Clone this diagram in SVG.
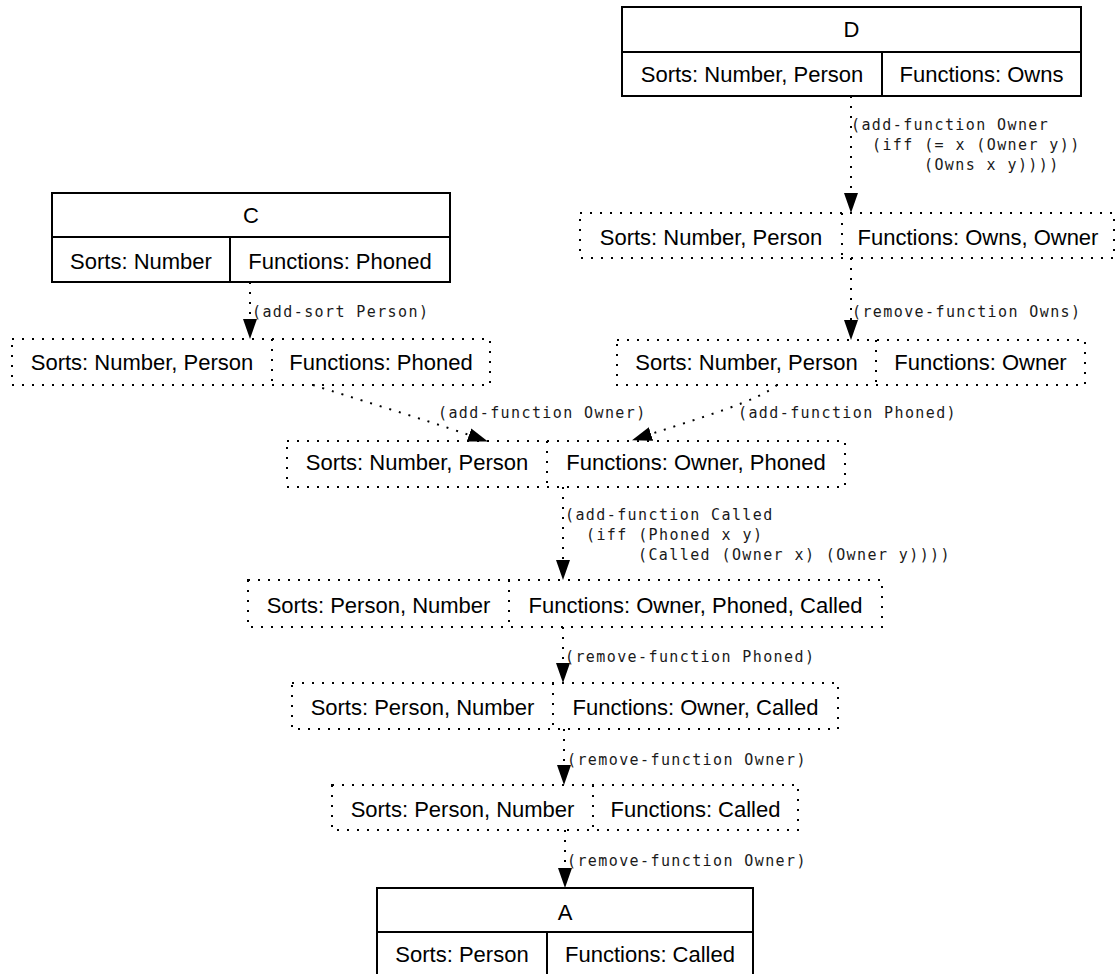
<svg xmlns="http://www.w3.org/2000/svg" width="1119" height="974" viewBox="0 0 1119 974">
<style>
.bg{fill:#fff}
.solid{fill:#fff;stroke:#000;stroke-width:2}
.sl{stroke:#000;stroke-width:2;fill:none}
.dot{fill:none;stroke:#000;stroke-width:2;stroke-dasharray:2 8}
.s{font-family:"Liberation Sans",Arial,Helvetica,sans-serif;font-size:22px;text-anchor:middle;fill:#000}
.m{font-family:"DejaVu Sans Mono",Menlo,monospace;font-size:15px;letter-spacing:1.4px;fill:#1a1a1a}
.e{fill:none;stroke:#000;stroke-width:2;stroke-dasharray:2 8}
</style>
<defs>
<marker id="ah" viewBox="0 -7 20 14" markerWidth="20" markerHeight="14" refX="0" refY="0" orient="auto" markerUnits="userSpaceOnUse">
<path d="M0,-7 L20,0 L0,7 Z" fill="#000"/>
</marker>
</defs>
<rect class="bg" x="0" y="0" width="1119" height="974"/>

<g id="nodeD">
<rect class="solid" x="622" y="7" width="459" height="89"/>
<line class="sl" x1="622" y1="52" x2="1081" y2="52"/>
<line class="sl" x1="882" y1="52" x2="882" y2="96"/>
<text class="s" x="851.5" y="37">D</text>
<text class="s" x="752" y="82">Sorts: Number, Person</text>
<text class="s" x="981.5" y="82">Functions: Owns</text>
</g>

<g id="nodeC">
<rect class="solid" x="52" y="193" width="398" height="89"/>
<line class="sl" x1="52" y1="237" x2="450" y2="237"/>
<line class="sl" x1="230" y1="237" x2="230" y2="282"/>
<text class="s" x="251" y="223">C</text>
<text class="s" x="141" y="269">Sorts: Number</text>
<text class="s" x="340" y="269">Functions: Phoned</text>
</g>

<g id="nodeC2">
<rect class="dot" x="12" y="339" width="478" height="46"/>
<line class="dot" x1="272" y1="339" x2="272" y2="385"/>
<text class="s" x="142" y="370">Sorts: Number, Person</text>
<text class="s" x="381" y="370">Functions: Phoned</text>
</g>

<g id="nodeD2">
<rect class="dot" x="580" y="213" width="534" height="45"/>
<line class="dot" x1="842" y1="213" x2="842" y2="258"/>
<text class="s" x="711" y="245">Sorts: Number, Person</text>
<text class="s" x="978" y="245">Functions: Owns, Owner</text>
</g>

<g id="nodeD3">
<rect class="dot" x="617" y="340" width="468" height="45"/>
<line class="dot" x1="876" y1="340" x2="876" y2="385"/>
<text class="s" x="746.5" y="370">Sorts: Number, Person</text>
<text class="s" x="980.5" y="370">Functions: Owner</text>
</g>

<g id="nodeE">
<rect class="dot" x="287" y="441" width="558" height="46"/>
<line class="dot" x1="547" y1="441" x2="547" y2="487"/>
<text class="s" x="417" y="470">Sorts: Number, Person</text>
<text class="s" x="696" y="470">Functions: Owner, Phoned</text>
</g>

<g id="nodeF">
<rect class="dot" x="248" y="580" width="634" height="47"/>
<line class="dot" x1="509" y1="580" x2="509" y2="627"/>
<text class="s" x="378.5" y="613">Sorts: Person, Number</text>
<text class="s" x="695.5" y="613">Functions: Owner, Phoned, Called</text>
</g>

<g id="nodeG">
<rect class="dot" x="292" y="683" width="546" height="46"/>
<line class="dot" x1="553" y1="683" x2="553" y2="729"/>
<text class="s" x="422.5" y="715">Sorts: Person, Number</text>
<text class="s" x="695.5" y="715">Functions: Owner, Called</text>
</g>

<g id="nodeH">
<rect class="dot" x="332" y="785" width="466" height="45"/>
<line class="dot" x1="593" y1="785" x2="593" y2="830"/>
<text class="s" x="462.5" y="817">Sorts: Person, Number</text>
<text class="s" x="695.5" y="817">Functions: Called</text>
</g>

<g id="nodeA">
<rect class="solid" x="377" y="888" width="376" height="90"/>
<line class="sl" x1="377" y1="932" x2="753" y2="932"/>
<line class="sl" x1="547" y1="932" x2="547" y2="978"/>
<text class="s" x="565" y="920">A</text>
<text class="s" x="462" y="962">Sorts: Person</text>
<text class="s" x="650" y="962">Functions: Called</text>
</g>

<g id="connectors">
<path class="e" d="M851,96 L851,193" marker-end="url(#ah)"/>
<path class="e" d="M851,258 L851,320" marker-end="url(#ah)"/>
<path class="e" d="M250,282 L250,319" marker-end="url(#ah)"/>
<path class="e" d="M313,385 C350,397 420,418 469,435" marker-end="url(#ah)"/>
<path class="e" d="M777,385 C760,400 700,418 651,434" marker-end="url(#ah)"/>
<path class="e" d="M563,487 L563,560" marker-end="url(#ah)"/>
<path class="e" d="M563,627 L563,663" marker-end="url(#ah)"/>
<path class="e" d="M564,729 L564,765" marker-end="url(#ah)"/>
<path class="e" d="M565,830 L565,868" marker-end="url(#ah)"/>

<text class="m" x="851" y="130">(add-function Owner</text>
<text class="m" x="872" y="150">(iff (= x (Owner y))</text>
<text class="m" x="924" y="170">(Owns x y))))</text>
<text class="m" x="252" y="317">(add-sort Person)</text>
<text class="m" x="852" y="317">(remove-function Owns)</text>
<text class="m" x="438" y="418">(add-function Owner)</text>
<text class="m" x="738" y="418">(add-function Phoned)</text>
<text class="m" x="565" y="520">(add-function Called</text>
<text class="m" x="586" y="540">(iff (Phoned x y)</text>
<text class="m" x="638" y="560">(Called (Owner x) (Owner y))))</text>
<text class="m" x="565" y="662">(remove-function Phoned)</text>
<text class="m" x="567" y="765">(remove-function Owner)</text>
<text class="m" x="567" y="866">(remove-function Owner)</text>
</g>
</svg>
